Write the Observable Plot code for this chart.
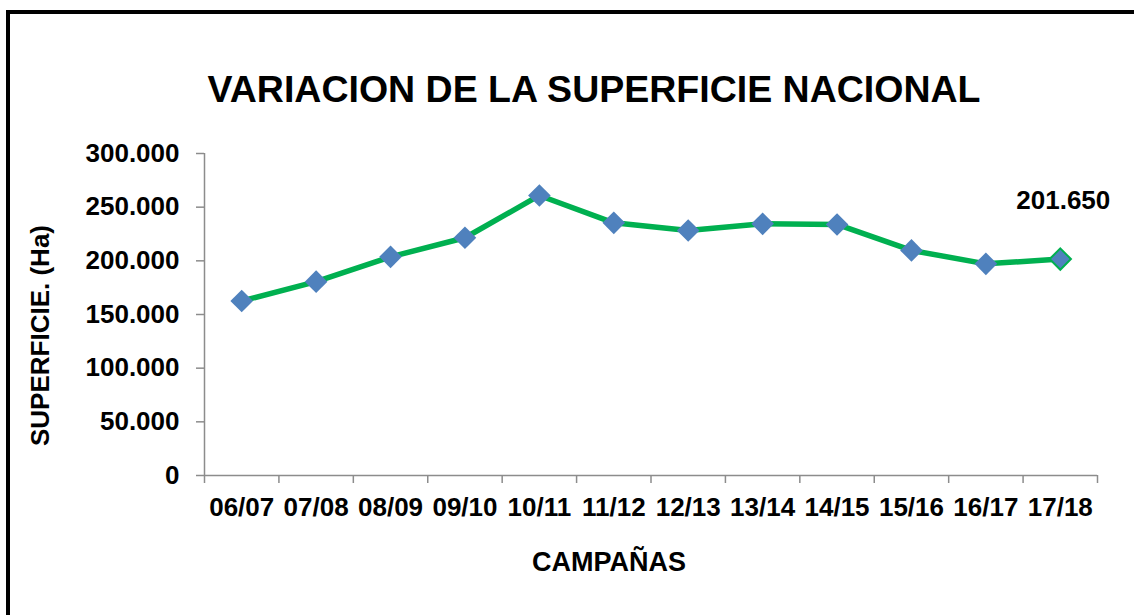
<!DOCTYPE html>
<html>
<head>
<meta charset="utf-8">
<script src="https://cdn.jsdelivr.net/npm/d3@7"></script>
<script src="https://cdn.jsdelivr.net/npm/@observablehq/plot@0.6"></script>
<style>
  html, body { margin: 0; padding: 0; background: #fff; overflow: hidden; }
  #frame { position: absolute; left: 6px; top: 10px; width: 2000px; height: 2000px;
           border-left: 4px solid #000; border-top: 4px solid #000; box-sizing: border-box; }
  #chart { position: absolute; left: 0; top: 0; }
</style>
</head>
<body>
<div id="frame"></div>
<div id="chart"></div>
<script>
const categories = ["06/07","07/08","08/09","09/10","10/11","11/12","12/13","13/14","14/15","15/16","16/17","17/18"];
const superficie = [162600, 180600, 203700, 221500, 260900, 235400, 228300, 234500, 233900, 209700, 197200, 201650];
const yTicks = [0, 50000, 100000, 150000, 200000, 250000, 300000];
const title = "VARIACION DE LA SUPERFICIE NACIONAL";
const yTitle = "SUPERFICIE. (Ha)";
const xTitle = "CAMPAÑAS";
const labelText = "201.650";

const data = categories.map((c, i) => ({i, c, v: superficie[i]}));
const last = data[data.length - 1];
const fmt = d => d3.format(",")(d).replace(/,/g, ".");
const gray = "#8c8c8c";
const font = "'Liberation Sans', Arial, sans-serif";

const chart = Plot.plot({
  width: 1134,
  height: 615,
  marginLeft: 204,
  marginRight: 37,
  marginTop: 153,
  marginBottom: 140,
  style: {fontFamily: font, fontWeight: "bold", fontSize: "26px", color: "#000", background: "transparent", overflow: "visible"},
  x: {domain: [-0.5, categories.length - 0.5]},
  y: {domain: [0, 300000]},
  marks: [
    Plot.axisY(yTicks, {tickSize: 8, tickPadding: 17, tickFormat: fmt, stroke: gray, strokeWidth: 1.5, label: null, fontSize: 26}),
    Plot.axisX(d3.range(categories.length + 1).map(i => i - 0.5), {tickSize: 8, tickFormat: () => "", stroke: gray, strokeWidth: 1.5, label: null}),
    Plot.axisX(d3.range(categories.length), {tickSize: 0, tickPadding: 22, tickFormat: i => categories[i], label: null, fontSize: 26}),
    Plot.ruleX([-0.5], {y1: 0, y2: 300000, stroke: gray, strokeWidth: 1.5}),
    Plot.ruleY([0], {x1: -0.5, x2: categories.length - 0.5, stroke: gray, strokeWidth: 1.5}),
    Plot.line(data, {x: "i", y: "v", stroke: "#00B050", strokeWidth: 5.5}),
    Plot.dot(data.slice(0, -1), {x: "i", y: "v", symbol: "diamond2", r: 10.2, fill: "#4F81BD", stroke: "none"}),
    Plot.dot([last], {x: "i", y: "v", symbol: "diamond2", r: 9.6, fill: "#4F81BD", stroke: "#00B050", strokeWidth: 2}),
    Plot.text([last], {x: "i", y: "v", text: () => labelText, dx: 3, dy: -58, fontSize: 26, fontWeight: "bold", fill: "#000"}),
    Plot.text([title], {frameAnchor: "top", dx: -57, dy: -78, fontSize: 37.5, fontWeight: "bold", fill: "#000"}),
    Plot.text([yTitle], {frameAnchor: "left", textAnchor: "middle", rotate: -90, dx: -164, dy: 21, fontSize: 26, fontWeight: "bold", fill: "#000"}),
    Plot.text([xTitle], {frameAnchor: "bottom", dx: -42, dy: 95, fontSize: 27, fontWeight: "bold", fill: "#000"})
  ]
});
document.getElementById("chart").appendChild(chart);
</script>
</body>
</html>
